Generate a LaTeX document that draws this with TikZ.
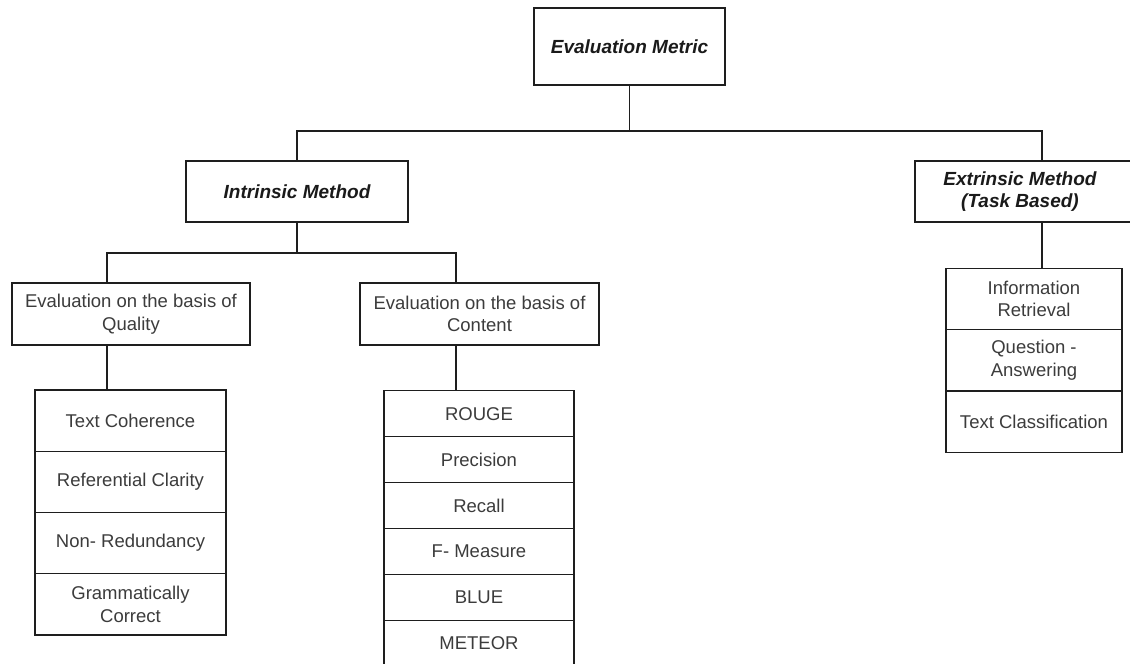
\documentclass[tikz,border=0pt]{standalone}
\usepackage{fontspec}
\setmainfont{Liberation Sans}
\definecolor{lineC}{HTML}{1E1E1E}
\definecolor{txtC}{HTML}{3C3C3C}
\definecolor{headC}{HTML}{1A1A1A}
\begin{document}
\begin{tikzpicture}[x=1pt,y=-1pt,
  every node/.style={inner sep=0pt, outer sep=0pt},
  box/.style={draw=lineC, line width=1.3pt, fill=white, align=center,
    font=\fontsize{18.5}{22.5}\selectfont, text=txtC},
  head/.style={box, font=\fontsize{19}{22}\selectfont\bfseries\itshape, text=headC},
  conn/.style={draw=lineC, line width=1.3pt},
  qrow/.style={box, minimum width=191pt, minimum height=61.25pt},
  crow/.style={box, minimum width=190pt, minimum height=45.9pt},
  erow/.style={box, minimum width=176pt, minimum height=61.3pt},
]
\useasboundingbox (0,0) rectangle (1130,664);

% headings
\node[head, minimum width=191pt, minimum height=77pt] (root) at (629.5,46.5) {Evaluation Metric};
\node[head, minimum width=222pt, minimum height=61pt] (intr) at (297,191.5) {Intrinsic Method};
\node[head, minimum width=225pt, minimum height=61pt] (ext) at (1027.5,191.5)
  {\hspace*{-15pt}Extrinsic Method\\\hspace*{-15pt}(Task Based)};

% second level
\node[box, minimum width=238pt, minimum height=62pt] (qual) at (131,314) {Evaluation on the basis of\\Quality};
\node[box, minimum width=239pt, minimum height=62pt] (cont) at (479.5,314) {Evaluation on the basis of\\Content};

% quality list
\node[qrow] (q1) at (130.5,420.6) {Text Coherence};
\node[qrow] (q2) at (130.5,481.9) {Referential Clarity};
\node[qrow] (q3) at (130.5,543.1) {Non- Redundancy};
\node[qrow] (q4) at (130.5,604.4) {Grammatically\\Correct};

% content list
\node[crow] (c1) at (479,413.65) {ROUGE};
\node[crow] (c2) at (479,459.55) {Precision};
\node[crow] (c3) at (479,505.45) {Recall};
\node[crow] (c4) at (479,551.35) {F- Measure};
\node[crow] (c5) at (479,597.25) {BLUE};
\node[crow] (c6) at (479,643.15) {METEOR};

% extrinsic list
\node[erow] (e1) at (1034,298.95) {Information\\Retrieval};
\node[erow] (e2) at (1034,360.25) {Question -\\Answering};
\node[erow] (e3) at (1034,421.55) {Text Classification};

% junctions
\coordinate (busL) at (297,131);
\coordinate (busR) at (1042,131);
\coordinate (qj) at (107,253);
\coordinate (cj) at (456,253);

% connectors
\draw[conn] (root.south) -- (root.south |- busL);
\draw[conn] (intr.north) -- (intr.north |- busL) -- (busR) -- (busR |- ext.north);
\draw[conn] (intr.south) -- (intr.south |- qj);
\draw[conn] (qj |- qual.north) -- (qj) -- (cj) -- (cj |- cont.north);
\draw[conn] (qj |- qual.south) -- (qj |- q1.north);
\draw[conn] (cj |- cont.south) -- (cj |- c1.north);
\draw[conn] (busR |- ext.south) -- (busR |- e1.north);
\end{tikzpicture}
\end{document}
